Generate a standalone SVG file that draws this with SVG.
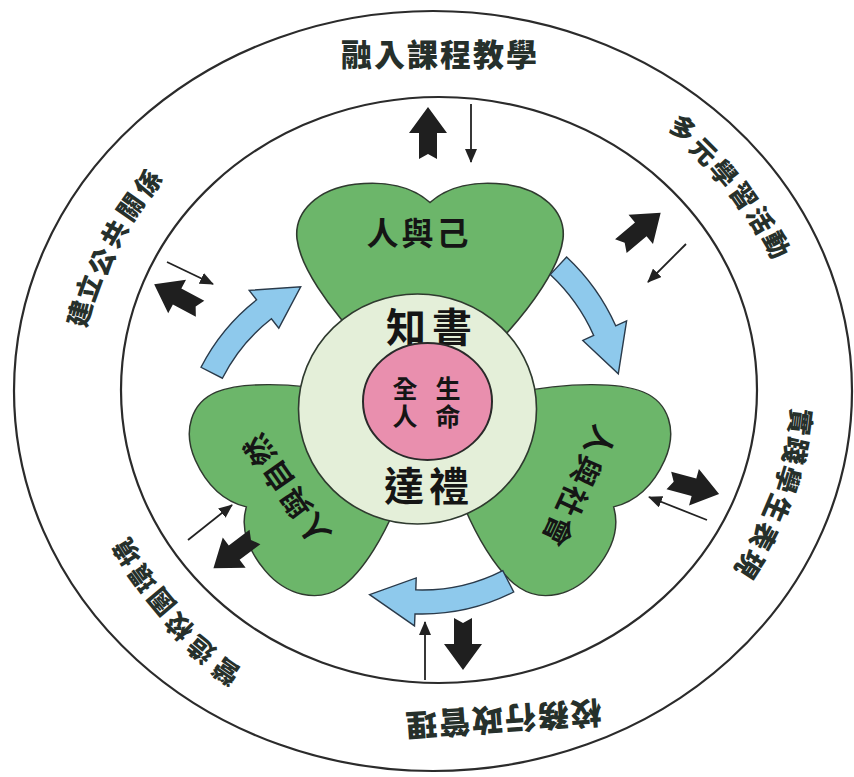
<svg xmlns="http://www.w3.org/2000/svg" width="854" height="777" viewBox="0 0 854 777">
<style>
.ring{fill:none;stroke:#2b2b2b;stroke-width:2.2}
.leaf{fill:#6cb66a;stroke:#2f3a2f;stroke-width:1.6}
.rt{font-family:"Noto Sans CJK TC","Noto Sans CJK SC",sans-serif;font-weight:900;fill:#26302b;text-anchor:middle;dominant-baseline:central}
.lt{font-family:"Noto Sans CJK TC","Noto Sans CJK SC",sans-serif;font-weight:700;fill:#151515;text-anchor:middle;dominant-baseline:central}
.vt{font-family:"Noto Sans CJK TC","Noto Sans CJK SC",sans-serif;font-weight:700;fill:#151515;text-anchor:middle;writing-mode:vertical-rl}
.big{fill:#1f1f1f}
.thin{stroke:#222;stroke-width:1.8;fill:none;marker-end:url(#ah)}
.blue{fill:#8ec9ec;stroke:#2a3a4a;stroke-width:1.4}
</style>
<defs>
<marker id="ah" viewBox="0 0 14 12" refX="13" refY="6" markerWidth="14" markerHeight="12" markerUnits="userSpaceOnUse" orient="auto"><path d="M0,0 L14,6 L0,12 Z" fill="#222"/></marker>
<path id="heart" d="M0,-228 C-18,-246 -45,-252 -75,-248 C-112,-243 -136,-218 -133,-188 C-130,-160 -105,-115 -60,-65 L0,0 L60,-65 C105,-115 130,-160 133,-188 C136,-218 112,-243 75,-248 C45,-252 18,-246 0,-228 Z"/>
<polygon id="bigarrow" points="0,-27 19,-1 9,-1 9,25 0,20 -9,25 -9,-1 -19,-1"/>
</defs>
<rect width="854" height="777" fill="#fff"/>
<g id="rings">
<ellipse class="ring" cx="433" cy="391" rx="419" ry="380"/>
<ellipse class="ring" cx="439" cy="390" rx="318" ry="293"/>
</g>
<g id="leaf-self">
<use href="#heart" class="leaf" transform="translate(430,410) scale(1,0.91)"/>
<text class="lt" font-size="32" letter-spacing="3" transform="translate(419,231)">人與己</text>
</g>
<g id="leaf-society">
<use href="#heart" class="leaf" transform="translate(430,410) scale(0.93,0.85) rotate(120)"/>
<text class="lt" font-size="30" letter-spacing="3" transform="translate(580,488) rotate(115)">人與社會</text>
</g>
<g id="leaf-nature">
<use href="#heart" class="leaf" transform="translate(430,410) scale(0.93,0.85) rotate(-120)"/>
<text class="lt" font-size="30" letter-spacing="2" transform="translate(285,490) rotate(-125)">人與自然</text>
</g>
<g id="core">
<ellipse cx="417.5" cy="409" rx="119" ry="115" fill="#e4efd9" stroke="#2f3a2f" stroke-width="1.6"/>
<text class="lt" font-size="40" transform="translate(406,325)">知</text>
<text class="lt" font-size="40" transform="translate(452,325)">書</text>
<text class="lt" font-size="40" transform="translate(404,484)">達</text>
<text class="lt" font-size="40" transform="translate(449,484)">禮</text>
</g>
<g id="center">
<ellipse cx="427.5" cy="401.5" rx="64.5" ry="58.5" fill="#e98fae" stroke="#2a2a2a" stroke-width="2"/>
<text class="vt" font-size="25" letter-spacing="3" x="405" y="404">全人</text>
<text class="vt" font-size="25" letter-spacing="3" x="448" y="404">生命</text>
</g>
<g id="cycle-arrows">
<path class="blue" d="M566.6,257.0 A212,212 0 0 1 615.7,325.8 L626.6,320.9 L618.3,373.8 L582.8,340.4 L593.7,335.5 A188,188 0 0 0 550.2,274.6 Z"/>
<path class="blue" d="M513.7,592.0 A202,202 0 0 1 415.0,613.9 L414.5,625.9 L369.6,594.6 L416.2,577.9 L415.8,589.9 A178,178 0 0 0 502.8,570.6 Z"/>
<path class="blue" d="M201.0,367.3 A202,202 0 0 1 256.6,299.8 L249.2,290.4 L300.7,286.8 L278.8,328.2 L271.4,318.7 A178,178 0 0 0 222.4,378.2 Z"/>
</g>
<g id="connectors">
<use href="#bigarrow" class="big" transform="translate(428,134)"/>
<line class="thin" x1="471" y1="104" x2="471" y2="162"/>
<use href="#bigarrow" class="big" transform="translate(640,230) rotate(50)"/>
<line class="thin" x1="686" y1="244" x2="648" y2="282"/>
<use href="#bigarrow" class="big" transform="translate(693,487) rotate(105)"/>
<line class="thin" x1="707" y1="520" x2="649" y2="497"/>
<use href="#bigarrow" class="big" transform="translate(463,643) rotate(180)"/>
<line class="thin" x1="425" y1="680" x2="425" y2="622"/>
<use href="#bigarrow" class="big" transform="translate(235,552) rotate(233)"/>
<line class="thin" x1="188" y1="540" x2="232" y2="505"/>
<use href="#bigarrow" class="big" transform="translate(178,297) rotate(-62)"/>
<line class="thin" x1="167" y1="262" x2="213" y2="284"/>
</g>
<g id="label-curriculum">
<text class="rt" font-size="31" letter-spacing="2" transform="translate(440,52)">融入課程教學</text>
</g>
<g id="label-activities">
<text class="rt" font-size="26" transform="translate(684,127) rotate(40)">多</text>
<text class="rt" font-size="26" transform="translate(705,150) rotate(45)">元</text>
<text class="rt" font-size="26" transform="translate(725,172) rotate(50)">學</text>
<text class="rt" font-size="26" transform="translate(745,195) rotate(55)">習</text>
<text class="rt" font-size="26" transform="translate(762,219) rotate(60)">活</text>
<text class="rt" font-size="26" transform="translate(778,244) rotate(64)">動</text>
</g>
<g id="label-performance">
<text class="rt" font-size="27" transform="translate(802,422) rotate(97)">實</text>
<text class="rt" font-size="27" transform="translate(797,451) rotate(102)">踐</text>
<text class="rt" font-size="27" transform="translate(789,480) rotate(107)">學</text>
<text class="rt" font-size="27" transform="translate(778,509) rotate(113)">生</text>
<text class="rt" font-size="27" transform="translate(765,537) rotate(118)">表</text>
<text class="rt" font-size="27" transform="translate(751,565) rotate(123)">現</text>
</g>
<g id="label-admin">
<text class="rt" font-size="31" letter-spacing="2" transform="translate(503,721) rotate(176)">校務行政管理</text>
</g>
<g id="label-environment">
<text class="rt" font-size="26" transform="translate(225,673) rotate(215)">營</text>
<text class="rt" font-size="26" transform="translate(200,651) rotate(220)">造</text>
<text class="rt" font-size="26" transform="translate(178,628) rotate(225)">校</text>
<text class="rt" font-size="26" transform="translate(160,603) rotate(230)">園</text>
<text class="rt" font-size="26" transform="translate(141,579) rotate(234)">環</text>
<text class="rt" font-size="26" transform="translate(125,553) rotate(238)">境</text>
</g>
<g id="label-relations">
<text class="rt" font-size="26" transform="translate(78,313) rotate(-75)">建</text>
<text class="rt" font-size="26" transform="translate(87,287) rotate(-70)">立</text>
<text class="rt" font-size="26" transform="translate(100,261) rotate(-65)">公</text>
<text class="rt" font-size="26" transform="translate(113,233) rotate(-60)">共</text>
<text class="rt" font-size="26" transform="translate(129,206) rotate(-55)">關</text>
<text class="rt" font-size="26" transform="translate(147,182) rotate(-50)">係</text>
</g>
</svg>
